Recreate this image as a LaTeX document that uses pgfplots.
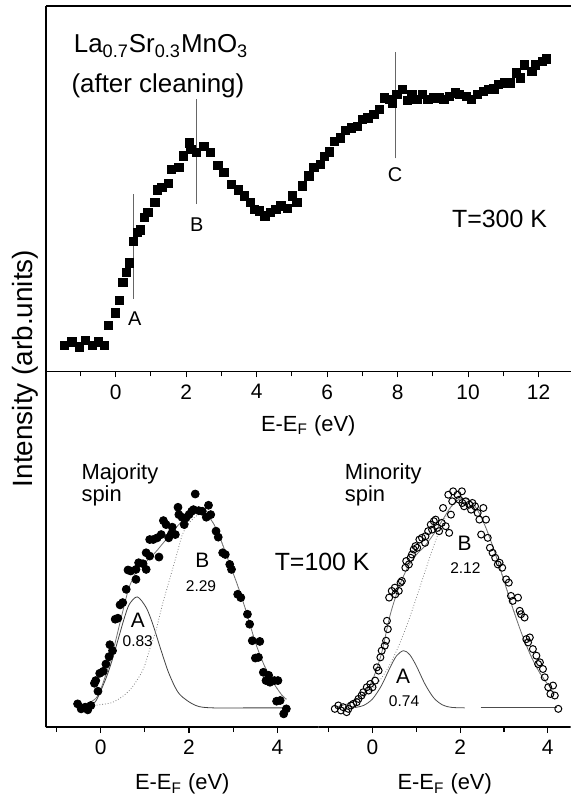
\documentclass[border=0pt]{standalone}
\usepackage{fontspec}
\setmainfont{Liberation Sans}
\usepackage{pgfplots}
\pgfplotsset{compat=1.18}
\usetikzlibrary{calc}

\newcommand{\fs}[1]{\fontsize{#1}{#1}\selectfont}

\pgfplotsset{
  panel/.style={
    scale only axis, clip=false,
    axis line style={line width=0.9pt},
    axis x line*=box,
    hide y axis,
    xtick pos=left,
    tick align=outside,
    major tick length=3pt, minor tick length=2.5pt,
    tick style={black, line width=0.6pt},
    /pgf/number format/assume math mode=true,
    ticklabel style={font=\fs{10.5}},
    label style={font=\fs{11}},
    xlabel={E-E\textsubscript{F} (eV)},
  },
  fit/.style={no markers, smooth, line width=0.4pt},
}

\begin{document}
\begin{tikzpicture}

% ---- top panel, T=300 K ----
\begin{axis}[panel, name=top,
    width=263.5pt, height=183.5pt,
    xmin=-1.98, xmax=12.91, ymin=0, ymax=367,
    xtick={0,2,...,12}, minor xtick={-1,1,...,11},
    xlabel style={at={(axis description cs:0.5,0)}, anchor=base, yshift=-30pt},
]
\addplot[only marks, mark=square*, mark size=2.1pt, black] table {
-1.45 26.3
-1.24 29.7
-1.03 24.7
-0.86 31.3
-0.65 26.3
-0.48 29.7
-0.31 26.3
-0.21 46.3
0.00 59.0
0.10 71.3
0.21 89.7
0.31 99.7
0.40 109.0
0.51 130.7
0.61 139.7
0.71 142.0
0.82 154.7
0.92 159.7
1.11 169.7
1.18 182.3
1.31 184.7
1.49 189.0
1.59 203.0
1.80 204.7
1.93 216.3
2.09 229.7
2.14 223.0
2.30 219.7
2.50 226.3
2.69 219.7
2.90 207.0
3.07 199.7
3.28 188.0
3.49 182.3
3.66 176.3
3.83 169.7
3.93 163.0
4.07 161.3
4.24 156.3
4.39 159.7
4.55 163.0
4.69 166.3
4.88 163.7
5.01 176.3
5.14 169.7
5.30 186.3
5.48 196.3
5.63 204.7
5.81 208.0
5.92 215.7
6.07 220.3
6.20 231.3
6.38 234.7
6.51 242.3
6.69 244.7
6.85 246.3
7.00 253.0
7.16 254.7
7.33 258.0
7.49 263.0
7.62 274.7
7.78 273.0
7.86 269.7
7.98 278.0
8.14 283.0
8.27 272.3
8.40 278.0
8.55 273.0
8.71 278.0
8.86 273.0
9.02 274.7
9.17 274.7
9.31 273.0
9.46 276.3
9.64 279.7
9.76 278.0
9.95 276.3
10.10 273.0
10.26 278.0
10.43 281.3
10.58 283.0
10.73 283.7
10.86 288.0
11.03 289.7
11.19 289.7
11.37 299.7
11.48 294.7
11.60 308.0
11.81 301.3
11.91 308.0
12.10 311.3
12.22 313.7
};
\draw[black!60, line width=0.35pt] (0.50,73) -- (0.50,178);
\draw[black!60, line width=0.35pt] (2.30,168) -- (2.30,274);
\draw[black!60, line width=0.35pt] (7.93,214) -- (7.93,321);
\node[anchor=base, font=\fs{10}] at (0.54,46) {A};
\node[anchor=base, font=\fs{10}] at (2.30,141) {B};
\node[anchor=base, font=\fs{10}] at (7.93,191) {C};
\node[anchor=base, font=\fs{13}] at (1.29,320) {La\textsubscript{0.7}Sr\textsubscript{0.3}MnO\textsubscript{3}};
\node[anchor=base, font=\fs{13}] at (1.20,280) {(after cleaning)};
\node[anchor=base, font=\fs{12.5}] at (10.89,145) {T=300 K};
\end{axis}

% ---- bottom left, majority spin ----
\begin{axis}[panel, name=maj,
    at={(top.south west)}, anchor=north west,
    width=137pt, height=178.5pt,
    xmin=-1.239, xmax=4.932, ymin=0, ymax=357,
    xtick={0,2,4}, minor xtick={-1,1,3},
    xlabel style={at={(axis description cs:0.5,0)}, anchor=base, yshift=-31.5pt},
]
\addplot[fit, black!75] coordinates {
(-0.45,19.5) (-0.25,22) (-0.10,26.7) (0.13,50) (0.28,70) (0.43,93.3) (0.54,110)
(0.65,123.3) (0.83,130.7) (1.03,120) (1.18,103.3) (1.37,76.7) (1.55,53.3)
(1.78,33.3) (2.15,21.7) (2.53,19.3) (3.4,19.3) (4.2,19.3)};
\addplot[fit, black!50, densely dotted] coordinates {
(-0.4,20) (-0.17,21.7) (0.28,25) (0.65,36.7) (0.95,56.7) (1.10,76.7) (1.25,96.7)
(1.40,123.3) (1.55,146.7) (1.70,170) (1.85,193.3) (2.00,205) (2.23,213.3)
(2.5,208) (2.7,190) (2.9,166) (3.1,142) (3.3,115) (3.5,85) (3.7,62) (3.9,45)
(4.1,32) (4.2,28)};
\addplot[fit, black!55] coordinates {
(-0.5,20.5) (-0.1,29.2) (0.13,54) (0.28,76) (0.43,103.3) (0.54,123) (0.65,141)
(0.83,158) (0.95,163) (1.10,169) (1.25,176) (1.40,184) (1.55,192) (1.70,200)
(1.85,207) (2.00,212) (2.23,215) (2.5,208) (2.7,190) (2.9,166) (3.1,142)
(3.3,115) (3.5,85) (3.7,62) (3.9,45) (4.1,32) (4.2,28)};
\addplot[only marks, mark=*, mark size=2pt, black] table {
-0.52 23.3
-0.44 18.3
-0.35 20.0
-0.29 17.3
-0.22 21.7
-0.14 44.0
-0.11 46.7
-0.06 36.0
-0.02 54.0
0.06 56.0
0.12 63.3
0.19 70.7
0.21 82.7
0.27 76.7
0.33 108.3
0.39 109.3
0.44 122.7
0.50 125.0
0.58 138.3
0.62 157.7
0.68 156.7
0.80 148.3
0.80 158.3
0.86 165.0
0.96 164.0
1.03 175.0
1.03 158.3
1.11 171.7
1.11 188.3
1.19 188.3
1.28 190.0
1.32 170.7
1.37 193.3
1.42 207.3
1.48 203.3
1.54 190.0
1.60 194.0
1.62 200.7
1.69 193.3
1.75 220.7
1.77 213.3
1.84 210.7
1.89 203.3
1.93 210.0
2.00 213.3
2.06 216.7
2.10 218.3
2.14 234.0
2.22 217.3
2.30 216.7
2.39 210.7
2.44 222.7
2.49 213.3
2.61 196.7
2.66 190.7
2.76 175.0
2.82 173.3
2.92 163.3
2.96 158.3
3.10 133.3
3.17 130.0
3.32 113.3
3.37 103.3
3.43 86.7
3.50 69.3
3.57 70.0
3.60 86.0
3.68 55.0
3.74 46.7
3.80 52.0
3.83 45.0
3.93 46.7
4.01 46.7
3.98 26.0
4.06 26.7
4.14 13.3
4.20 18.3
};
\node[anchor=base west, font=\fs{11}] at (-0.59,249) {Majority};
\node[anchor=base west, font=\fs{11}] at (-0.59,226.7) {spin};
\node[anchor=base, font=\fs{10.5}] at (0.84,100) {A};
\node[anchor=base, font=\fs{7.8}] at (0.84,80.7) {0.83};
\node[anchor=base, font=\fs{10.5}] at (2.30,160.7) {B};
\node[anchor=base, font=\fs{7.8}] at (2.27,135.7) {2.29};
\node[anchor=base, font=\fs{12.5}] at (5.01,157.3) {T=100 K};
\end{axis}

% ---- bottom right, minority spin ----
\begin{axis}[panel, name=mino,
    at={(maj.north east)}, anchor=north west,
    width=126.5pt, height=178.5pt,
    xmin=-1.227, xmax=4.523, ymin=0, ymax=357,
    xtick={0,2,4}, minor xtick={-1,1,3},
    xlabel style={at={(axis description cs:0.5,0)}, anchor=base, yshift=-31.5pt},
]
\addplot[fit, black!70] coordinates {
(-0.4,19.6) (-0.2,21.8) (0,28.2) (0.2,41.3) (0.4,59.6) (0.55,71.6) (0.71,76.7)
(0.85,72.7) (1.0,61.5) (1.2,43) (1.4,29.2) (1.6,22.2) (1.8,19.8) (2.1,19.3)};
\addplot[fit, black!70] coordinates {(2.47,19.3) (4.2,19.3)};
\addplot[fit, black!50, densely dotted] coordinates {
(-0.5,24.3) (-0.2,30.8) (0,38.2) (0.2,48.8) (0.4,63.1) (0.6,81.7) (0.8,104)
(1.0,129.6) (1.2,156.4) (1.4,182.3) (1.6,204.7) (1.8,221) (2.0,229.2)
(2.2,228.3) (2.4,217.6) (2.6,198.8) (2.8,174.4) (3.0,147) (3.2,119.6)
(3.4,94.4) (3.6,72.9) (3.8,55.7) (4.0,42.9) (4.1,38)};
\addplot[fit, black!55] coordinates {
(-0.85,20) (-0.5,24.5) (-0.2,33.6) (0,47.4) (0.2,73) (0.4,112) (0.6,140)
(0.8,160) (1.0,173) (1.2,182) (1.4,194) (1.6,208) (1.8,221.8) (2.0,229.2)
(2.2,228.3) (2.4,217.6) (2.6,198.8) (2.8,174.4) (3.0,147) (3.2,119.6)
(3.4,94.4) (3.6,72.9) (3.8,55.7) (4.0,42.9) (4.1,38)};
\addplot[only marks, mark=o, mark size=1.75pt, black, line width=0.5pt] table {
-0.86 18.3
-0.78 21.7
-0.72 16.7
-0.67 20.0
-0.59 15.0
-0.55 18.3
-0.49 21.7
-0.44 23.3
-0.36 25.0
-0.32 28.3
-0.25 31.7
-0.21 35.0
-0.13 40.0
-0.09 36.7
-0.05 43.3
0.00 40.0
0.06 46.7
0.14 56.7
0.10 60.0
0.18 70.0
0.21 76.7
0.28 81.7
0.31 86.7
0.35 98.3
0.33 106.7
0.38 130.0
0.44 136.7
0.51 140.0
0.52 133.3
0.60 136.7
0.64 145.0
0.67 146.7
0.75 160.0
0.77 166.7
0.83 163.3
0.87 170.0
0.90 173.3
0.94 178.3
0.98 181.7
1.02 180.0
1.07 188.3
1.13 190.0
1.20 185.0
1.21 191.7
1.27 196.7
1.33 203.3
1.36 198.3
1.40 206.7
1.44 208.3
1.48 200.0
1.52 196.7
1.58 205.0
1.61 220.0
1.67 201.7
1.75 195.0
1.79 213.3
1.82 226.7
1.73 233.3
1.84 236.7
1.94 233.3
1.98 228.3
2.04 236.7
2.05 225.0
2.09 221.7
2.13 226.7
2.21 223.3
2.25 218.3
2.28 225.0
2.34 221.7
2.40 215.0
2.44 208.3
2.48 193.3
2.53 220.0
2.59 208.3
2.63 190.0
2.68 180.0
2.74 175.0
2.80 170.0
2.86 163.3
2.90 165.0
2.96 160.0
3.05 148.3
3.11 145.0
3.16 131.7
3.20 126.7
3.32 130.0
3.36 116.7
3.39 113.3
3.47 110.0
3.51 88.3
3.55 85.0
3.59 90.0
3.66 78.3
3.74 71.7
3.78 63.3
3.82 65.0
3.89 58.3
3.93 50.0
4.01 40.0
4.06 33.3
4.12 41.7
4.16 31.7
4.24 18.3
};
\node[anchor=base west, font=\fs{11}] at (-0.79,249) {Minority};
\node[anchor=base west, font=\fs{11}] at (-0.79,226.7) {spin};
\node[anchor=base, font=\fs{10.5}] at (0.70,43.3) {A};
\node[anchor=base, font=\fs{7.8}] at (0.72,21) {0.74};
\node[anchor=base, font=\fs{10.5}] at (2.10,177.3) {B};
\node[anchor=base, font=\fs{7.8}] at (2.12,154.3) {2.12};
\end{axis}

% left spine shared by both panels, y label and page frame
\draw[line width=0.9pt] (top.north west) -- (maj.south west);
\node[rotate=90, anchor=base, font=\fs{14}] at ($(top.north west)!0.5!(maj.south west)+(-6.5pt,-1pt)$) {Intensity (arb.units)};
\path (top.north west) ++(-23pt,3pt) rectangle ++(286.5pt,-400.5pt);
\end{tikzpicture}
\end{document}
